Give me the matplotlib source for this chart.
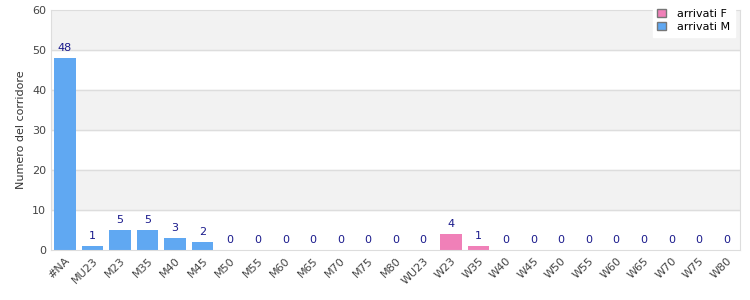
import matplotlib.pyplot as plt
from matplotlib.patches import Patch
import numpy as np

categories = ["#NA", "MU23", "M23", "M35", "M40", "M45", "M50", "M55", "M60", "M65",
              "M70", "M75", "M80", "WU23", "W23", "W35", "W40", "W45", "W50", "W55",
              "W60", "W65", "W70", "W75", "W80"]
arrivati_f = [0, 0, 0, 0, 0, 0, 0, 0, 0, 0, 0, 0, 0, 0, 4, 1, 0, 0, 0, 0, 0, 0, 0, 0, 0]
arrivati_m = [48, 1, 5, 5, 3, 2, 0, 0, 0, 0, 0, 0, 0, 0, 0, 0, 0, 0, 0, 0, 0, 0, 0, 0, 0]

col_f = "#f080b8"
col_m = "#60a8f2"

fig = plt.figure(figsize=(7.5, 3), dpi=100)
ax = fig.add_axes([0.068, 0.167, 0.919, 0.8])

x = np.arange(len(categories))
f = np.array(arrivati_f)
m = np.array(arrivati_m)

# alternating bands
for lo in (10, 30, 50):
    ax.axhspan(lo, lo + 10, color="#f2f2f2", zorder=0)
for y in range(10, 60, 10):
    ax.axhline(y, color="#dddddd", lw=1, zorder=0.5)

ax.bar(x, m, width=0.78, color=col_m, zorder=2)
ax.bar(x, f, width=0.78, bottom=m, color=col_f, zorder=2)

tot = f + m
for xi, t in zip(x, tot):
    ax.text(xi, t + 1.2, str(t), ha="center", va="bottom", fontsize=8, color="#1a1a8c")

ax.set_xlim(-0.5, len(categories) - 0.5)
ax.set_ylim(0, 60)
ax.set_yticks(range(0, 61, 10))
ax.set_xticks(x)
ax.set_xticklabels(categories, rotation=45, ha="right", rotation_mode="anchor")
ax.tick_params(axis="both", length=0, labelsize=8, colors="#444444")
ax.tick_params(axis="x", pad=4)
ax.set_ylabel("Numero del corridore", fontsize=8, color="#333333")
for s in ax.spines.values():
    s.set_color("#dddddd")

handles = [Patch(facecolor=col_f, edgecolor="#777777", label="arrivati F"),
           Patch(facecolor=col_m, edgecolor="#777777", label="arrivati M")]
fig.legend(handles=handles, loc="upper right", bbox_to_anchor=(0.987, 1.005),
           fontsize=8, frameon=True, fancybox=False, edgecolor="white",
           framealpha=1, handlelength=0.8, handleheight=0.8, borderpad=0.4,
           labelspacing=0.3, handletextpad=1.0)

fig.savefig("out.png", dpi=100)
